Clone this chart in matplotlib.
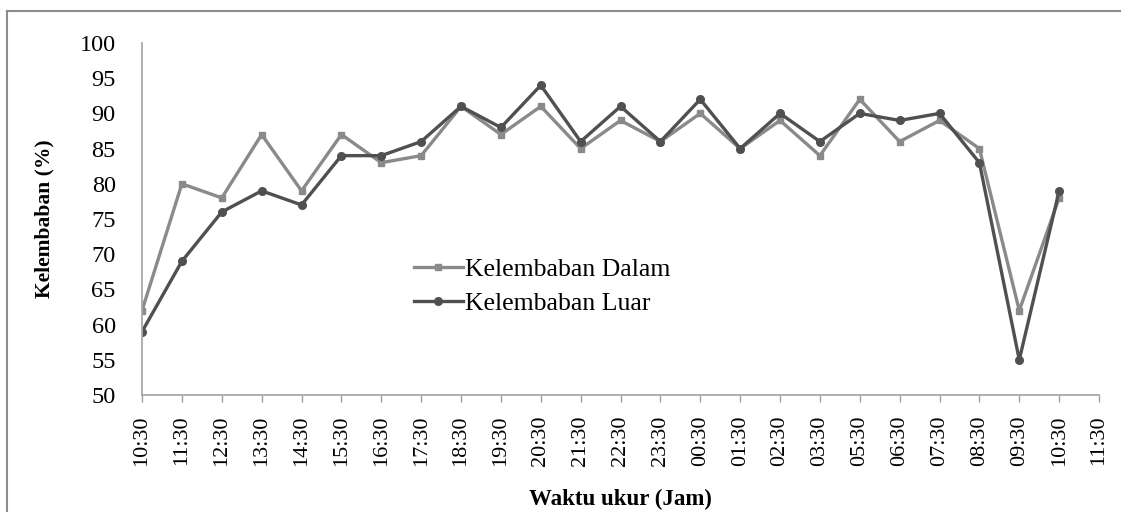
import matplotlib.pyplot as plt
from matplotlib.lines import Line2D

plt.rcParams['font.family'] = ['Liberation Serif', 'DejaVu Serif']

waktu = ['10:30', '11:30', '12:30', '13:30', '14:30', '15:30', '16:30', '17:30',
         '18:30', '19:30', '20:30', '21:30', '22:30', '23:30', '00:30', '01:30',
         '02:30', '03:30', '05:30', '06:30', '07:30', '08:30', '09:30', '10:30',
         '11:30']
kelembaban_dalam = [62, 80, 78, 87, 79, 87, 83, 84, 91, 87, 91, 85, 89, 86, 90, 85,
                    89, 84, 92, 86, 89, 85, 62, 78]
kelembaban_luar = [59, 69, 76, 79, 77, 84, 84, 86, 91, 88, 94, 86, 91, 86, 92, 85,
                   90, 86, 90, 89, 90, 83, 55, 79]

fig = plt.figure(figsize=(11.21, 5.12), dpi=100)
ax = fig.add_axes([0.1267, 0.2285, 0.8537, 0.6875])

x_dalam = range(len(kelembaban_dalam))
x_luar = range(len(kelembaban_luar))
ax.plot(x_dalam, kelembaban_dalam, color='#8a8a8a', lw=2.4, marker='s', ms=4.5,
        label='Kelembaban Dalam')
ax.plot(x_luar, kelembaban_luar, color='#505050', lw=2.4, marker='o', ms=5.5,
        label='Kelembaban Luar')

ax.set_xlim(0, len(waktu) - 1)
ax.set_ylim(50, 100)
ax.set_yticks(range(50, 101, 5))
ax.set_xticks(range(len(waktu)))
ax.set_xticklabels(waktu, rotation=90, fontsize=16)
ax.tick_params(axis='y', length=0, labelsize=17.5, pad=19)
ax.tick_params(axis='x', length=5, width=1, color='#a0a0a0', direction='out', pad=10)

for side in ['top', 'right']:
    ax.spines[side].set_visible(False)
for side in ['left', 'bottom']:
    ax.spines[side].set_color('#a8a8a8')
    ax.spines[side].set_linewidth(1.3)

ax.set_ylabel('Kelembaban (%)', fontsize=15.5, fontweight='bold', labelpad=18)
ax.set_xlabel('Waktu ukur (Jam)', fontsize=16.5, fontweight='bold', labelpad=16)

ax.legend(loc='upper left', bbox_to_anchor=(0.26, 0.455), frameon=False,
          fontsize=18.5, handlelength=1.9, handletextpad=0.1, labelspacing=0.42)

# outer chart frame (top and left edges)
fig.add_artist(Line2D([0.0062, 0.0062], [0.0, 0.979], color='#8c8c8c', lw=1.5))
fig.add_artist(Line2D([0.0062, 1.0], [0.979, 0.979], color='#8c8c8c', lw=1.5))

fig.savefig('out.png', dpi=100)
